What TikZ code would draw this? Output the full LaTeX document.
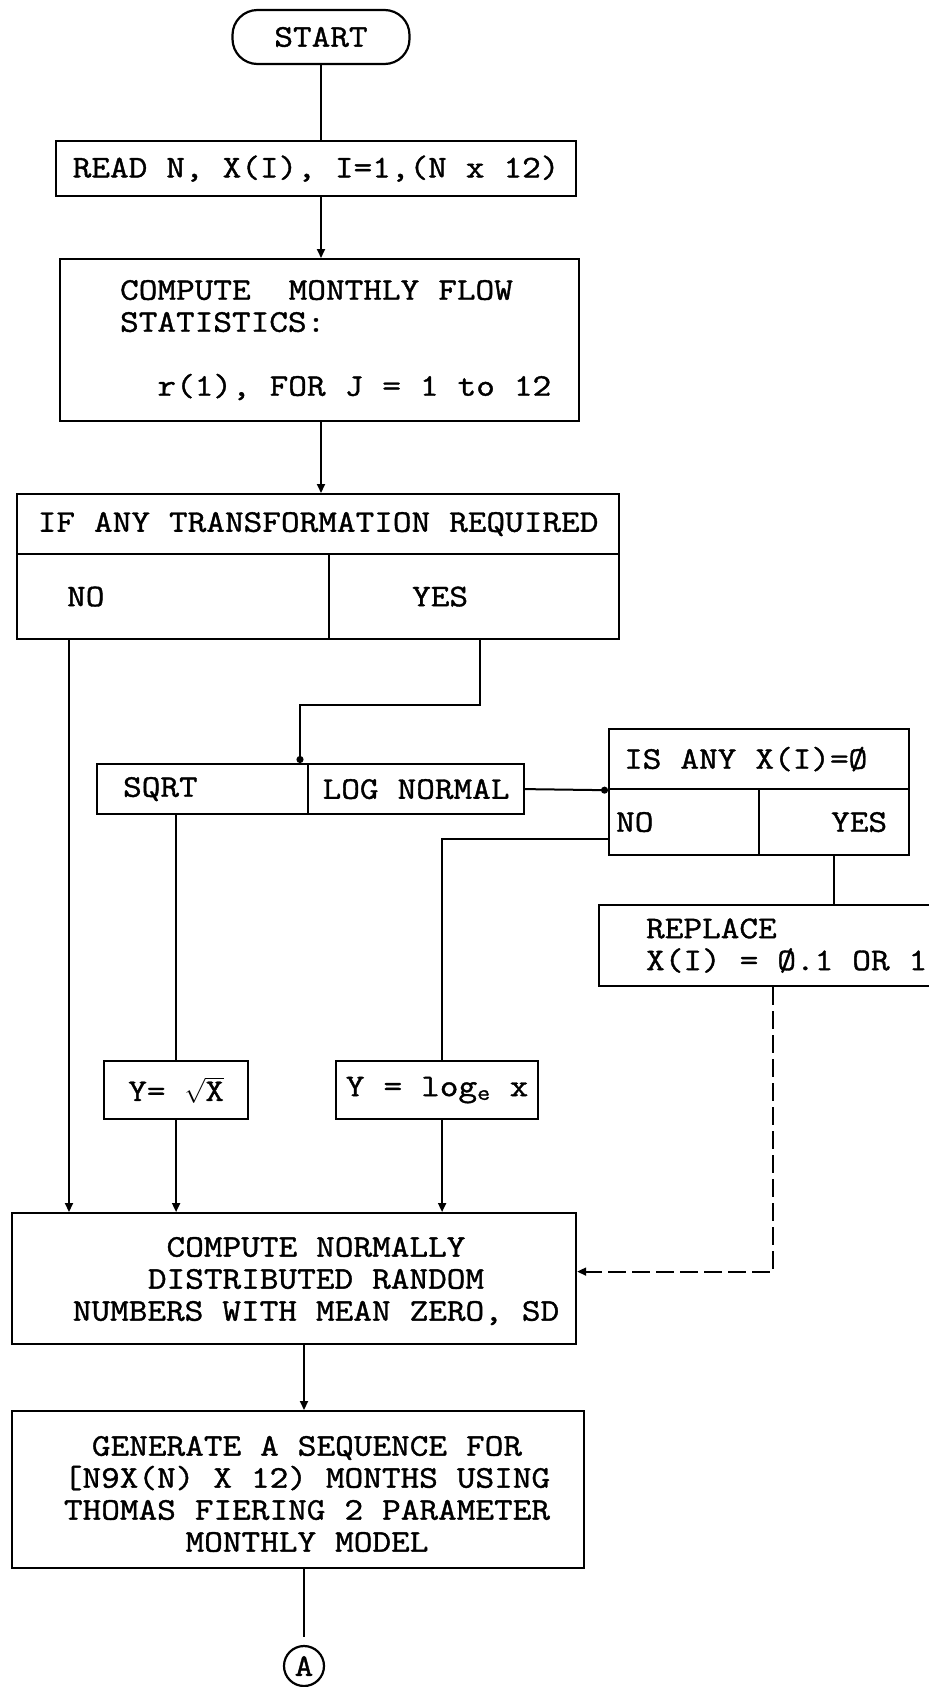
\documentclass[tikz,border=0pt]{standalone}
\usepackage{fontspec}
\usetikzlibrary{arrows.meta}
\newfontfamily\chartfont[FakeStretch=1.15,FakeBold=1.2]{Latin Modern Mono}
\newcommand{\chartsize}{\chartfont\fontsize{31.5}{32}\selectfont\frenchspacing}
\newcommand{\fixspaces}{\spaceskip=19pt\xspaceskip=19pt\relax}

\tikzset{
  chartbox/.style={draw,line width=2.2pt,inner sep=0pt,anchor=north west,font=\chartsize,execute at begin node=\fixspaces},
  chartlabel/.style={inner sep=0pt,align=center,font=\chartsize,execute at begin node=\fixspaces},
  flowline/.style={line width=2pt},
  flowarrow/.style={line width=2pt,-{Triangle[length=9pt,width=8pt]}},
  flowdot/.style={line width=2pt,-{Circle[length=7pt]}},
}

\begin{document}
\begin{tikzpicture}[x=1pt,y=-1pt]
\clip (0,0) rectangle (929,1687);
\fill[white] (0,0) rectangle (929,1687);

% main column
\node[chartbox,anchor=center,rounded corners=25pt,minimum width=177,minimum height=54] (start) at (321,37) {START};
\node[chartbox,minimum width=520,minimum height=55] (read) at (55,140) {READ N, X(I), I=1,(N x 12)};
\node[chartbox,minimum height=162,inner xsep=60pt,text width=399pt,align=flush left] (stats) at (59,258)
  {\mbox{COMPUTE\ \ MONTHLY FLOW}\\STATISTICS:\\ \mbox{}\\\mbox{\hphantom{XX}r(1), FOR J = 1 to 12}};

% transformation choice
\node[chartbox,minimum width=602,minimum height=60] (ifq) at (16,493) {IF ANY TRANSFORMATION REQUIRED};
\node[chartbox,minimum height=85,inner xsep=50pt,text width=212pt,align=flush left] (ifno) at (16,553) {NO};
\node[chartbox,minimum height=85,inner xsep=83pt,text width=124pt,align=flush left] (ifyes) at (328,553) {YES};

\node[chartbox,minimum height=50,inner xsep=26pt,text width=159pt,align=flush left] (sqrtc) at (96,763) {SQRT};
\node[chartbox,minimum width=216,minimum height=50] (logn) at (307,763) {LOG NORMAL};

% zero test
\node[chartbox,minimum height=60,inner xsep=15pt,text width=270pt,align=flush left] (isq) at (608,728) {IS ANY X(I)=Ø};
\node[chartbox,minimum height=66,inner xsep=7pt,text width=136pt,align=flush left] (isno) at (608,788) {NO};
\node[chartbox,minimum height=66,inner xsep=22pt,text width=106pt,align=flush right] (isyes) at (758,788) {YES};
\node[chartbox,minimum height=81,inner xsep=47pt,text width=276pt,align=flush left] (repl) at (598,904) {REPLACE\\\mbox{X(I) = Ø.1 OR 1}};

\node[chartbox,minimum width=144,minimum height=58] (ysq) at (103,1060) {Y= $\sqrt{\mbox{X}}$};
\node[chartbox,minimum width=202,minimum height=58] (ylog) at (335,1060) {Y = log\textsubscript{e} x};

% lower part
\node[chartbox,minimum width=564,minimum height=131] (norm) at (11,1212) {};
\node[chartlabel] (normtxt) at (316,1281) {COMPUTE NORMALLY\\DISTRIBUTED RANDOM\\NUMBERS WITH MEAN ZERO, SD};
\node[chartbox,minimum width=572,minimum height=157] (gen) at (11,1410) {};
\node[chartlabel] (gentxt) at (307,1494) {GENERATE A SEQUENCE FOR\\{[}N9X(N) X 12) MONTHS USING\\THOMAS FIERING 2 PARAMETER\\MONTHLY MODEL};
\node[draw,circle,line width=2.2pt,inner sep=0pt,minimum size=40pt,font=\chartsize] (conA) at (304,1666) {A};

% connectors
\draw[flowline] (start.south) -- (start.south |- read.north);
\draw[flowarrow] (start.south |- read.south) -- (start.south |- stats.north);
\draw[flowarrow] (start.south |- stats.south) -- (start.south |- ifq.north);

\path ([xshift=53pt]ifno.south west) coordinate (nocol);
\draw[flowarrow] (nocol) -- (nocol |- norm.north);
\draw[flowdot] ([xshift=6pt]ifyes.south) -- ++(0,65) -| ([xshift=-7pt]logn.north west);
\draw[flowdot] (logn.east) -- (isq.south west);

\path ([xshift=5pt]ylog.north) coordinate (logtop);
\path ([xshift=5pt]ylog.south) coordinate (logcol);
\draw[flowline] ([yshift=-17pt]isno.west) -| (logtop);
\draw[flowarrow] (logcol) -- (logcol |- norm.north);

\draw[flowline] (ysq.north |- sqrtc.south) -- (ysq.north);
\draw[flowarrow] (ysq.south) -- (ysq.south |- norm.north);

\draw[flowline] (isyes.south) -- (isyes.south |- repl.north);
\draw[flowarrow,dash pattern=on 18pt off 6pt] ([xshift=-11pt]repl.south) |- ([yshift=7pt]norm.east);

\draw[flowarrow] (conA |- norm.south) -- (conA |- gen.north);
\draw[flowline] (conA |- gen.south) -- ([yshift=8pt]conA.north);
\end{tikzpicture}
\end{document}
